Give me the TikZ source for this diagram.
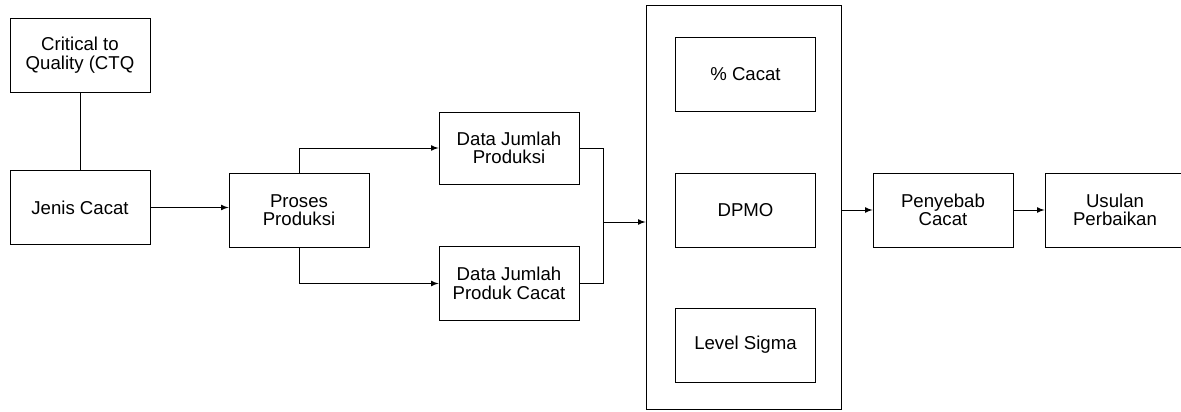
\documentclass[tikz,border=0pt]{standalone}
\usepackage{fontspec}
\setmainfont{Liberation Sans}
\usepackage{tikz}
\usetikzlibrary{arrows}
\usetikzlibrary{positioning}
\tikzset{blok/.style = {draw, line width = 0.5pt, align = center, minimum width = 2.8cm, minimum height = 1.48cm, inner sep = 0, font = \fontsize{10.6}{10.5}\selectfont}}
\tikzset{pan/.style = {->, >=latex, line width = 0.5pt}}

\begin{document}
\begin{tikzpicture}[x = 0.02cm, y = -0.02cm]
      \useasboundingbox (0, 0) rectangle (1181, 412);

      \node [blok] (ctq) at (80, 55) {Critical to\\Quality (CTQ};
      \node [blok] (jenis) at (80, 207.5) {Jenis Cacat};
      \draw [line width = 0.5pt] (ctq) -- (jenis);

      \node [blok] (proses) at (299, 210) {Proses\\Produksi};
      \node [blok, minimum height = 1.44cm] (djp) at (509, 148) {Data Jumlah\\Produksi};
      \node [blok] (djc) at (509, 283.5) {Data Jumlah\\Produk Cacat};

      \node [draw, line width = 0.5pt, minimum width = 3.9cm, minimum height = 8.08cm] (big) at (743.5, 207) {};
      \node [blok] (cacat) at (745.5, 74) {\% Cacat};
      \node [blok] (dpmo) at (745.5, 210) {DPMO};
      \node [blok] (sigma) at (745.5, 345) {Level Sigma};

      \node [blok] (penyebab) at (943, 210) {Penyebab\\Cacat};
      \node [blok] (usulan) at (1115, 210) {Usulan\\Perbaikan};

      \draw [pan] (jenis.east) -- (jenis.east -| proses.west);
      \draw [pan] (proses.north) |- (djp);
      \draw [pan] (proses.south) |- (djc);

      \coordinate (gab) at (603, 222);
      \draw [line width = 0.5pt] (djp.east) -| (gab);
      \draw [line width = 0.5pt] (djc.east) -| (gab);
      \draw [pan] (gab) -- (gab -| big.west);

      \draw [pan] (penyebab.west -| big.east) -- (penyebab.west);
      \draw [pan] (penyebab) -- (usulan);
    \end{tikzpicture}
\end{document}
